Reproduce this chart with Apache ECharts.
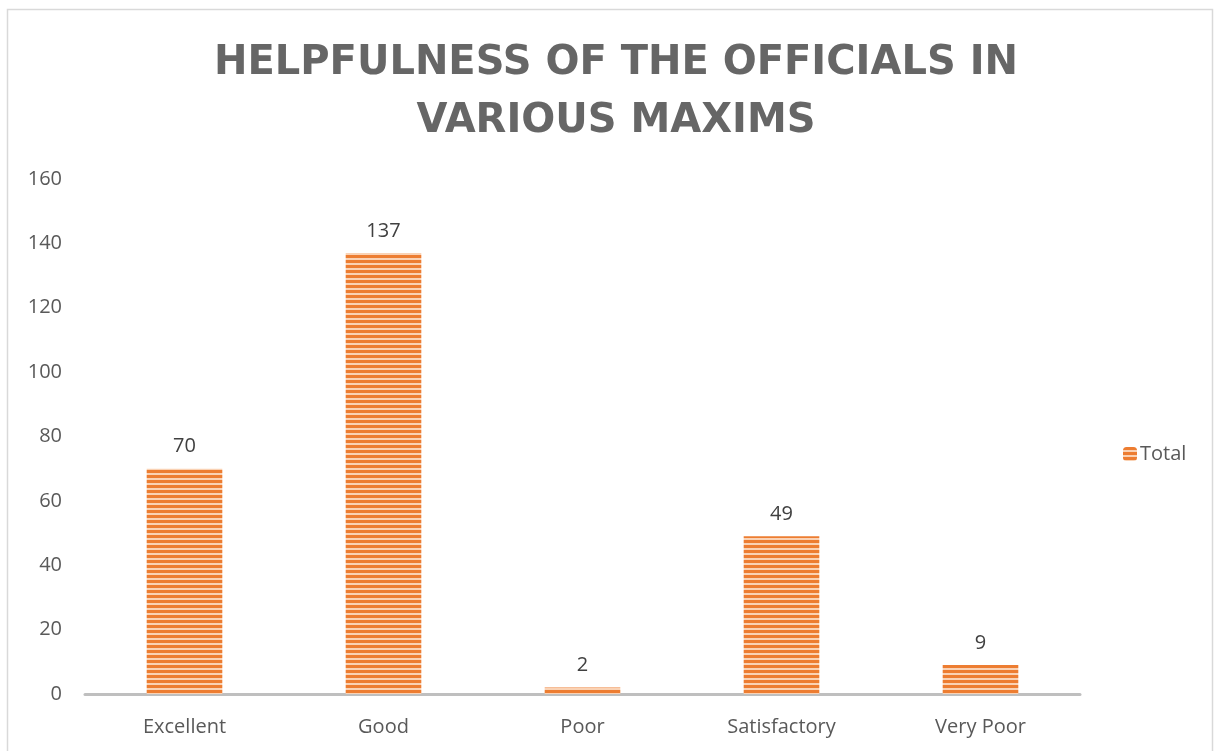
<!DOCTYPE html>
<html>
<head>
<meta charset="utf-8">
<script src="https://cdn.jsdelivr.net/npm/echarts@6/dist/echarts.min.js"></script>
<style>
  html, body { margin: 0; padding: 0; background: #fff; }
  #chart { width: 1215px; height: 751px; }
</style>
</head>
<body>
<div id="chart"></div>
<script>
var categories = ['Excellent', 'Good', 'Poor', 'Satisfactory', 'Very Poor'];
var totals = [70, 137, 2, 49, 9];

// striped fill like the office pattern
function stripes() {
  var c = document.createElement('canvas');
  c.width = 8; c.height = 5;
  var ctx = c.getContext('2d');
  ctx.fillStyle = '#FAD2B4';
  ctx.fillRect(0, 0, 8, 5);
  ctx.fillStyle = '#ED7D31';
  ctx.fillRect(0, 0, 8, 3);
  return c;
}

var myChart = echarts.init(document.getElementById('chart'));
var fill = { image: stripes(), repeat: 'repeat' };

var option = {
  animation: false,
  title: {
    text: 'HELPFULNESS OF THE OFFICIALS IN\nVARIOUS MAXIMS',
    left: 611,
    textAlign: 'center',
    top: 30,
    textStyle: {
      fontFamily: 'DejaVu Sans',
      fontWeight: 'bold',
      fontSize: 40,
      lineHeight: 58,
      color: '#666666'
    }
  },
  graphic: [{
    type: 'rect',
    shape: { x: 7.5, y: 9.5, width: 1205, height: 760 },
    style: { fill: 'none', stroke: '#D9D9D9', lineWidth: 1.5 },
    silent: true
  }],
  legend: {
    data: ['Total'],
    left: 1118,
    top: 439,
    itemWidth: 14,
    itemHeight: 14,
    itemGap: 5,
    textStyle: { fontFamily: 'Open Sans', fontSize: 20, color: '#595959', padding: [0, 0, 0, -2] }
  },
  grid: { left: 85, right: 135, top: 179, bottom: 57 },
  xAxis: {
    type: 'category',
    data: categories,
    axisLine: { lineStyle: { color: '#BFBFBF', width: 3 } },
    axisTick: { show: false },
    axisLabel: { fontFamily: 'Open Sans', fontSize: 20, color: '#595959', margin: 23 }
  },
  yAxis: {
    type: 'value',
    min: 0,
    max: 160,
    interval: 20,
    splitLine: { show: false },
    axisLine: { show: false },
    axisTick: { show: false },
    axisLabel: { fontFamily: 'Open Sans', fontSize: 20, color: '#595959', margin: 23 }
  },
  series: [{
    name: 'Total',
    type: 'bar',
    data: totals,
    barWidth: '38%',
    itemStyle: { color: fill },
    label: {
      show: true,
      position: 'top',
      distance: 12,
      fontFamily: 'Open Sans',
      fontSize: 20,
      color: '#404040'
    }
  }]
};

myChart.setOption(option);
</script>
</body>
</html>
